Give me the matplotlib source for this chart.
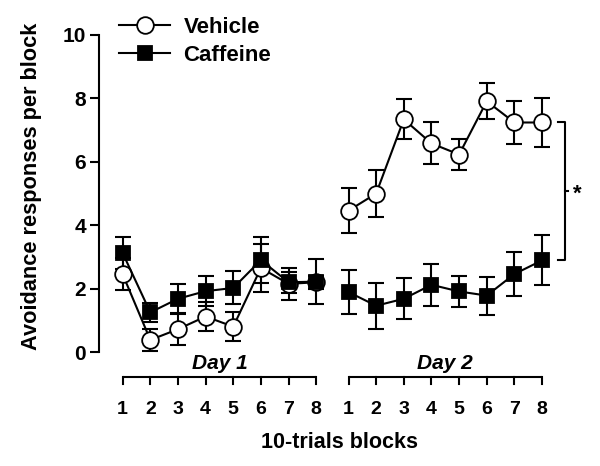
import numpy as np
import matplotlib
matplotlib.use("Agg")
import matplotlib.pyplot as plt

plt.rcParams['font.family'] = ['Liberation Sans', 'DejaVu Sans']
plt.rcParams['font.weight'] = 'bold'

blocks = [1, 2, 3, 4, 5, 6, 7, 8]
days = ["Day 1", "Day 2"]

vehicle_d1 = [2.45, 0.38, 0.72, 1.12, 0.80, 2.65, 2.15, 2.20]
vehicle_d1_err = [0.50, 0.34, 0.50, 0.47, 0.45, 0.75, 0.50, 0.20]
caffeine_d1 = [3.12, 1.25, 1.68, 1.92, 2.02, 2.90, 2.20, 2.22]
caffeine_d1_err = [0.50, 0.30, 0.48, 0.48, 0.52, 0.72, 0.33, 0.70]

vehicle_d2 = [4.46, 5.00, 7.34, 6.58, 6.23, 7.91, 7.24, 7.24]
vehicle_d2_err = [0.70, 0.74, 0.63, 0.66, 0.49, 0.57, 0.68, 0.76]
caffeine_d2 = [1.89, 1.46, 1.68, 2.12, 1.91, 1.78, 2.46, 2.89]
caffeine_d2_err = [0.70, 0.73, 0.64, 0.67, 0.48, 0.60, 0.69, 0.79]

gap = 8.17
x1 = np.array(blocks, dtype=float)
x2 = x1 + gap

fig = plt.figure(figsize=(6, 4.66), dpi=100)
ax = fig.add_axes([0.1655, 0.2446, 0.801, 0.6803])

lw = 1.5
cap = 6

def series(x, y, e, marker, face, ms, label):
    ax.errorbar(x, y, yerr=e, fmt='none', ecolor='black', elinewidth=lw,
                capsize=cap, capthick=lw, zorder=2, clip_on=False)
    ln, = ax.plot(x, y, color='black', lw=lw, marker=marker, ms=ms,
                  mfc=face, mec='black', mew=1.3, zorder=3, label=label, clip_on=False)
    return ln

h_veh = series(x1, vehicle_d1, vehicle_d1_err, 'o', 'white', 12, "Vehicle")
series(x2, vehicle_d2, vehicle_d2_err, 'o', 'white', 12, "Vehicle")
h_caf = series(x1, caffeine_d1, caffeine_d1_err, 's', 'black', 10, "Caffeine")
series(x2, caffeine_d2, caffeine_d2_err, 's', 'black', 10, "Caffeine")

ax.set_xlim(0.154, 17.54)
ax.set_ylim(0, 10)
ax.set_yticks([0, 2, 4, 6, 8, 10])
ax.tick_params(axis='y', length=6.5, width=lw, labelsize=15, pad=3)
for s in ['top', 'right', 'bottom']:
    ax.spines[s].set_visible(False)
ax.spines['left'].set_linewidth(lw)

# x axis: one bracket per day
ax.set_xticks(np.concatenate([x1, x2]))
ax.set_xticklabels([str(b) for b in blocks] * 2)
ax.tick_params(axis='x', length=0, labelsize=14, pad=35)
tr = ax.get_xaxis_transform()
for xs, name in zip([x1, x2], days):
    ax.plot([xs[0], xs[-1]], [-0.079, -0.079], color='black', lw=lw,
            transform=tr, clip_on=False, solid_capstyle='butt')
    for xv in xs:
        ax.plot([xv, xv], [-0.079, -0.101], color='black', lw=lw,
                transform=tr, clip_on=False)
    ax.text(xs.mean(), -0.035, name, transform=tr, ha='center', va='center',
            fontsize=15, fontstyle='italic', fontweight='bold')

ax.text(0.5, -0.284, "10-trials blocks", transform=ax.transAxes,
        ha='center', va='center', fontsize=15.5, fontweight='bold')
fig.text(32 / 600, 1 - 186 / 466, "Avoidance responses per block", rotation=90,
         ha='center', va='center', fontsize=15.7, fontweight='bold')

# significance bracket between last block means of day 2
bx = x2[-1] + 0.83
top, bot = vehicle_d2[-1], caffeine_d2[-1]
ax.plot([bx - 0.27, bx, bx, bx - 0.27], [top, top, bot, bot], color='black',
        lw=lw, clip_on=False)
mid = (top + bot) / 2
ax.plot([bx, bx + 0.12], [mid, mid], color='black', lw=lw, clip_on=False)
ax.text(bx + 0.45, mid - 0.1, "*", ha='center', va='center', fontsize=16, fontweight='bold')

fig.legend(handles=[h_veh, h_caf], loc='upper left', bbox_to_anchor=(119 / 600, 1 - 17 / 466),
           frameon=False, fontsize=16, handlelength=2.3, handletextpad=0.6,
           labelspacing=0.3, borderpad=0, borderaxespad=0)

fig.savefig("out.png", dpi=100)
